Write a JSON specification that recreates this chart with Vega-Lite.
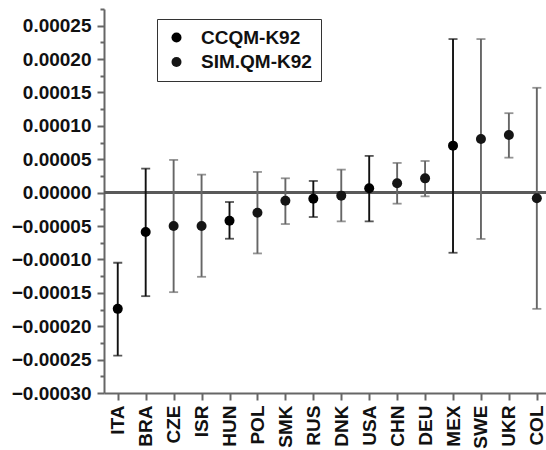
{
  "$schema": "https://vega.github.io/schema/vega-lite/v6.json",
  "width": 442,
  "height": 384,
  "autosize": {"type": "none"},
  "padding": {"left": 104, "top": 9, "right": 0, "bottom": 57},
  "background": "white",
  "config": {
    "view": {"stroke": null},
    "font": "Liberation Sans",
    "axis": {"grid": false, "title": null, "domainColor": "#666", "domainWidth": 2, "tickColor": "#666", "tickWidth": 2, "labelFont": "Liberation Sans", "labelFontWeight": "bold", "labelColor": "#111"}
  },
  "data": {
    "values": [
      {"country": "ITA", "series": "CCQM-K92", "value": -0.000174, "lower": -0.000244, "upper": -0.000105},
      {"country": "BRA", "series": "CCQM-K92", "value": -0.000059, "lower": -0.000155, "upper": 0.000036},
      {"country": "CZE", "series": "SIM.QM-K92", "value": -0.00005, "lower": -0.000149, "upper": 0.000049},
      {"country": "ISR", "series": "SIM.QM-K92", "value": -0.00005, "lower": -0.000126, "upper": 0.000027},
      {"country": "HUN", "series": "CCQM-K92", "value": -0.000042, "lower": -0.000069, "upper": -0.000014},
      {"country": "POL", "series": "SIM.QM-K92", "value": -0.00003, "lower": -0.000091, "upper": 0.000031},
      {"country": "SMK", "series": "SIM.QM-K92", "value": -0.000012, "lower": -0.000047, "upper": 0.0000215},
      {"country": "RUS", "series": "CCQM-K92", "value": -0.000009, "lower": -0.0000365, "upper": 0.0000175},
      {"country": "DNK", "series": "SIM.QM-K92", "value": -0.0000045, "lower": -0.000043, "upper": 0.0000345},
      {"country": "USA", "series": "CCQM-K92", "value": 0.0000065, "lower": -0.000043, "upper": 0.000055},
      {"country": "CHN", "series": "SIM.QM-K92", "value": 0.000014, "lower": -0.0000165, "upper": 0.0000445},
      {"country": "DEU", "series": "SIM.QM-K92", "value": 0.0000214, "lower": -0.0000055, "upper": 0.0000474},
      {"country": "MEX", "series": "CCQM-K92", "value": 0.0000704, "lower": -0.00009, "upper": 0.00023},
      {"country": "SWE", "series": "SIM.QM-K92", "value": 0.0000804, "lower": -0.0000693, "upper": 0.00023},
      {"country": "UKR", "series": "SIM.QM-K92", "value": 0.0000864, "lower": 0.0000524, "upper": 0.000119},
      {"country": "COL", "series": "SIM.QM-K92", "value": -0.0000085, "lower": -0.000174, "upper": 0.000157}
    ]
  },
  "layer": [
    {
      "mark": {"type": "rule", "strokeWidth": 0, "opacity": 0},
      "encoding": {
        "x": {
          "field": "country", "type": "nominal", "sort": null,
          "scale": {"type": "point", "padding": 0.41, "align": 0.6},
          "axis": {"labelAngle": 270, "labelAlign": "right", "labelBaseline": "middle", "labelFontSize": 19, "tickSize": 7, "labelPadding": 5}
        },
        "y": {"field": "value", "type": "quantitative",
          "scale": {"domain": [-0.0003, 0.000275], "nice": false, "zero": false},
          "axis": {"values": [-0.000275, -0.000225, -0.000175, -0.000125, -0.000075, -0.000025, 0.000025, 0.000075, 0.000125, 0.000175, 0.000225, 0.000275], "labels": false, "tickSize": 4, "domain": false, "orient": "left"}}
      }
    },
    {
      "mark": {"type": "rule", "strokeWidth": 2, "color": "#5a5a5a"},
      "encoding": {"y": {"datum": 0, "type": "quantitative", "axis": null}}
    },
    {
      "mark": {"type": "rule", "strokeWidth": 1.9},
      "encoding": {
        "x": {"field": "country", "type": "nominal", "sort": null},
        "y": {"field": "lower", "type": "quantitative",
          "axis": {"values": [-0.0003, -0.00025, -0.0002, -0.00015, -0.0001, -0.00005, 0, 0.00005, 0.0001, 0.00015, 0.0002, 0.00025], "format": ".5f", "labelFontSize": 19, "tickSize": 7, "labelPadding": 6, "orient": "left"}},
        "y2": {"field": "upper"},
        "color": {"condition": {"test": "datum.series === 'CCQM-K92'", "value": "#111"}, "value": "#666666"}
      }
    },
    {
      "mark": {"type": "tick", "orient": "horizontal", "size": 9, "thickness": 1.8},
      "encoding": {
        "x": {"field": "country", "type": "nominal", "sort": null},
        "y": {"field": "lower", "type": "quantitative", "axis": null},
        "color": {"condition": {"test": "datum.series === 'CCQM-K92'", "value": "#111"}, "value": "#666666"}
      }
    },
    {
      "mark": {"type": "tick", "orient": "horizontal", "size": 9, "thickness": 1.8},
      "encoding": {
        "x": {"field": "country", "type": "nominal", "sort": null},
        "y": {"field": "upper", "type": "quantitative", "axis": null},
        "color": {"condition": {"test": "datum.series === 'CCQM-K92'", "value": "#111"}, "value": "#666666"}
      }
    },
    {
      "mark": {"type": "point", "shape": "circle", "filled": true, "size": 100, "opacity": 1},
      "encoding": {
        "x": {"field": "country", "type": "nominal", "sort": null},
        "y": {"field": "value", "type": "quantitative", "axis": null},
        "color": {
          "field": "series", "type": "nominal",
          "scale": {"domain": ["CCQM-K92", "SIM.QM-K92"], "range": ["#000000", "#151515"]},
          "legend": {
            "title": null, "orient": "none", "legendX": 53, "legendY": 10,
            "strokeColor": "#333", "padding": 9, "rowPadding": 4.5,
            "symbolSize": 100, "symbolOffset": 1, "labelOffset": 15,
            "labelFontSize": 19, "labelFontWeight": "bold", "labelFont": "Liberation Sans", "labelColor": "#111"
          }
        }
      }
    }
  ],
  "resolve": {"axis": {"y": "independent"}}
}
